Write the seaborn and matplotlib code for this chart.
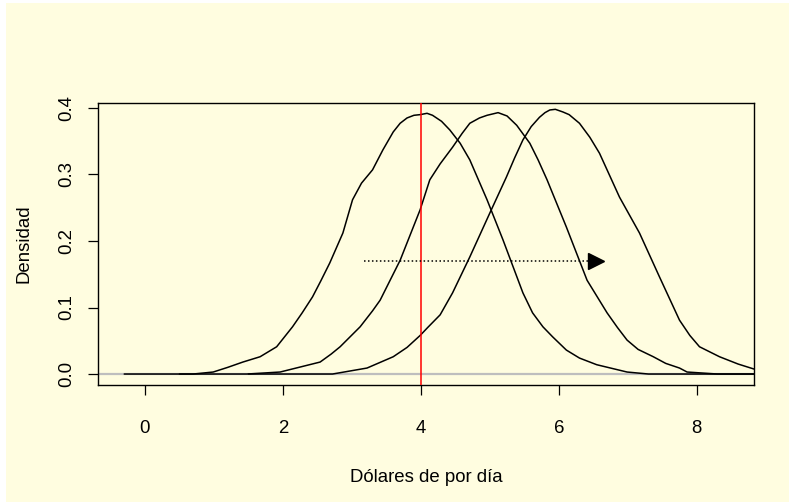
import numpy as np
import pandas as pd
import matplotlib
matplotlib.use("Agg")
import matplotlib.pyplot as plt
from matplotlib.patches import Rectangle
import seaborn as sns

# --- datos (densidades estimadas, 3 curvas) ---
x_curva1 = [-0.3, 0.70, 0.99, 1.20, 1.42, 1.67, 1.91, 2.14, 2.28, 2.43, 2.55, 2.68, 2.87, 3.01,
            3.14, 3.30, 3.45, 3.60, 3.70, 3.80, 3.90, 3.99, 4.09, 4.17, 4.30, 4.42, 4.57, 4.71,
            4.96, 5.19, 5.48, 5.62, 5.77, 5.91, 6.11, 6.30, 6.55, 6.99, 7.30, 8.90]
y_curva1 = [0.0, 0.0, 0.003, 0.010, 0.018, 0.026, 0.041, 0.071, 0.092, 0.116, 0.140, 0.167, 0.212, 0.262,
            0.287, 0.307, 0.337, 0.364, 0.377, 0.385, 0.389, 0.390, 0.392, 0.389, 0.380, 0.367, 0.347, 0.322,
            0.262, 0.202, 0.122, 0.092, 0.071, 0.056, 0.036, 0.024, 0.014, 0.003, 0.0, 0.0]

x_curva2 = [0.5, 1.48, 1.96, 2.54, 2.70, 2.83, 3.12, 3.30, 3.41, 3.55, 3.70, 3.99, 4.13, 4.28,
            4.46, 4.60, 4.71, 4.85, 4.96, 5.12, 5.25, 5.39, 5.58, 5.70, 5.83, 6.11, 6.41, 6.70,
            6.85, 6.99, 7.15, 7.37, 7.55, 7.75, 7.86, 8.30, 8.90]
y_curva2 = [0.0, 0.0, 0.003, 0.018, 0.030, 0.041, 0.071, 0.095, 0.111, 0.140, 0.171, 0.247, 0.292, 0.316,
            0.341, 0.362, 0.377, 0.385, 0.389, 0.393, 0.388, 0.374, 0.347, 0.322, 0.292, 0.221, 0.141, 0.092,
            0.070, 0.051, 0.037, 0.026, 0.016, 0.009, 0.003, 0.0, 0.0]

x_curva3 = [1.5, 2.72, 3.22, 3.60, 3.80, 3.99, 4.10, 4.28, 4.46, 4.71, 5.00, 5.24, 5.36, 5.48,
            5.60, 5.72, 5.80, 5.87, 5.95, 6.06, 6.15, 6.30, 6.45, 6.59, 6.88, 7.17, 7.46, 7.75,
            7.90, 8.04, 8.33, 8.60, 8.83, 8.90]
y_curva3 = [0.0, 0.0, 0.009, 0.026, 0.040, 0.058, 0.070, 0.089, 0.122, 0.176, 0.242, 0.296, 0.325, 0.352,
            0.372, 0.386, 0.393, 0.397, 0.398, 0.394, 0.390, 0.377, 0.356, 0.332, 0.266, 0.212, 0.146, 0.081,
            0.058, 0.041, 0.026, 0.015, 0.0075, 0.006]

linea_vertical = 4
flecha_inicio = 3.17
flecha_fin = 6.54
flecha_y = 0.17

x_ticks = [0, 2, 4, 6, 8]
y_ticks = [0.0, 0.1, 0.2, 0.3, 0.4]
y_tick_labels = ["0.0", "0.1", "0.2", "0.3", "0.4"]

amarillo = "#FFFDE0"

df = pd.concat([
    pd.DataFrame({"x": x_curva1, "densidad": y_curva1, "curva": "c1"}),
    pd.DataFrame({"x": x_curva2, "densidad": y_curva2, "curva": "c2"}),
    pd.DataFrame({"x": x_curva3, "densidad": y_curva3, "curva": "c3"}),
])

sns.set_theme(style="ticks")
plt.rcParams["font.family"] = ["Liberation Sans", "DejaVu Sans"]

W, H = 789, 503
fig = plt.figure(figsize=(W / 100, H / 100), dpi=100, facecolor="white")
fondo = Rectangle((6 / W, 1 / H), 783 / W, 499 / H, transform=fig.transFigure,
                  facecolor=amarillo, edgecolor="none", zorder=-10)
fig.patches.append(fondo)
ax = fig.add_axes([98 / W, (H - 385) / H, 656 / W, 282 / H])
ax.set_zorder(5)
ax.set_facecolor(amarillo)

# linea gris en cero
ax.axhline(0, color="#BEBEBE", lw=1.6, zorder=1)

sns.lineplot(data=df, x="x", y="densidad", units="curva", estimator=None,
             color="black", lw=1.1, ax=ax, zorder=2, sort=False)

ax.axvline(linea_vertical, color="red", lw=1.1, zorder=3)

# flecha punteada
ax.plot([flecha_inicio, flecha_fin - 0.1], [flecha_y, flecha_y], color="black",
        lw=1.1, linestyle=(0, (1, 1.6)), zorder=3)
ax.plot([flecha_fin], [flecha_y], marker=">", ms=11, color="black", mec="black", zorder=4)

ax.set_xlim(-0.68, 8.83)
ax.set_ylim(-0.0165, 0.4075)
ax.set_xticks(x_ticks)
ax.set_xticklabels([str(v) for v in x_ticks])
ax.set_yticks(y_ticks)
ax.set_yticklabels(y_tick_labels, rotation=90, va="center")

for s in ax.spines.values():
    s.set_color("black")
    s.set_linewidth(1.0)

ax.tick_params(axis="x", length=7.2, width=0.9, color="black", pad=18, labelsize=13.4, labelcolor="black")
ax.tick_params(axis="y", length=7.2, width=0.9, color="black", pad=9, labelsize=13.4, labelcolor="black")

ax.set_xlabel("Dólares de por día", fontsize=13.4, color="black")
ax.set_ylabel("Densidad", fontsize=13.4, color="black")
ax.xaxis.set_label_coords(0.5, (385 - 477) / 282)
ax.xaxis.label.set_va("center")
ax.yaxis.set_label_coords((24 - 98) / 656, 0.5)
ax.yaxis.label.set_va("center")

fig.savefig("out.png", dpi=100, facecolor="white")
